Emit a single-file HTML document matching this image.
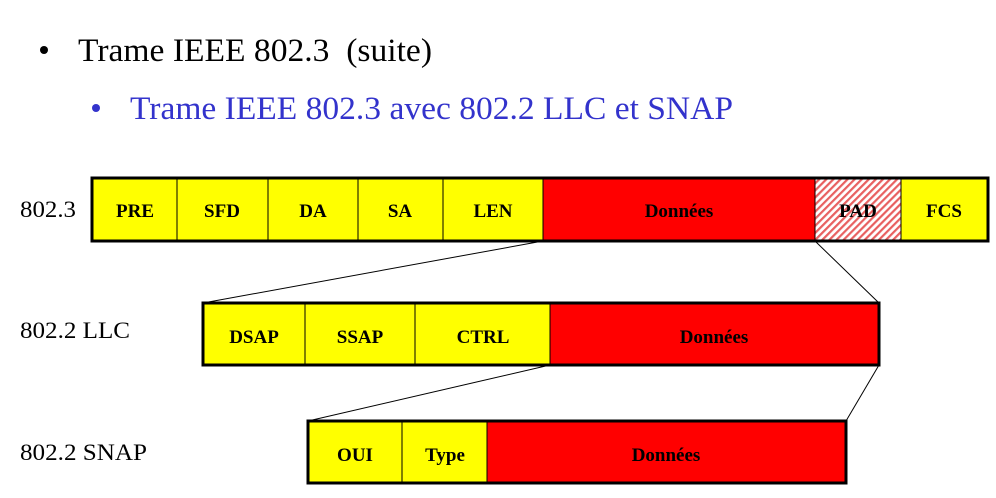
<!DOCTYPE html>
<html><head><meta charset="utf-8"><style>
html,body{margin:0;padding:0;background:#fff;width:996px;height:498px;overflow:hidden}
svg text{font-family:"Liberation Serif",serif}
.c{font-weight:bold;font-size:19px;text-anchor:middle}
</style></head><body>
<svg width="996" height="498" viewBox="0 0 996 498" xmlns="http://www.w3.org/2000/svg">
<defs>
<pattern id="h" width="5" height="5" patternUnits="userSpaceOnUse" patternTransform="rotate(45)">
<rect width="5" height="5" fill="#fff"/><rect width="2.2" height="5" fill="#e86060"/>
</pattern>
</defs>
<circle cx="44" cy="50" r="4" fill="#000"/>
<text x="78" y="61" font-size="33" textLength="354" lengthAdjust="spacingAndGlyphs" xml:space="preserve">Trame IEEE 802.3  (suite)</text>
<circle cx="96" cy="108" r="4" fill="#3333cc"/>
<text x="130" y="119" font-size="33" fill="#3333cc" textLength="603" lengthAdjust="spacingAndGlyphs">Trame IEEE 802.3 avec 802.2 LLC et SNAP</text>

<text x="20" y="217" font-size="23" textLength="56" lengthAdjust="spacingAndGlyphs">802.3</text>
<text x="20" y="338" font-size="23" textLength="110" lengthAdjust="spacingAndGlyphs">802.2 LLC</text>
<text x="20" y="460" font-size="23" textLength="127" lengthAdjust="spacingAndGlyphs">802.2 SNAP</text>

<g stroke="#000" stroke-width="1">
<line x1="543" y1="241" x2="203" y2="303"/>
<line x1="815" y1="241" x2="879" y2="303"/>
<line x1="550" y1="365" x2="308" y2="421"/>
<line x1="879" y1="365" x2="846" y2="421"/>
</g>

<rect x="92" y="178" width="451" height="63" fill="#ffff00"/>
<rect x="543" y="178" width="272" height="63" fill="#ff0000"/>
<rect x="815" y="178" width="86" height="63" fill="url(#h)"/>
<rect x="901" y="178" width="87" height="63" fill="#ffff00"/>
<g stroke="#000" stroke-width="1">
<line x1="177" y1="178" x2="177" y2="241"/><line x1="268" y1="178" x2="268" y2="241"/>
<line x1="358" y1="178" x2="358" y2="241"/><line x1="443" y1="178" x2="443" y2="241"/>
<line x1="543" y1="178" x2="543" y2="241"/><line x1="815" y1="178" x2="815" y2="241"/>
<line x1="901" y1="178" x2="901" y2="241"/>
</g>
<rect x="92" y="178" width="896" height="63" fill="none" stroke="#000" stroke-width="3"/>
<text class="c" x="135" y="217">PRE</text><text class="c" x="222" y="217">SFD</text>
<text class="c" x="313" y="217">DA</text><text class="c" x="400" y="217">SA</text>
<text class="c" x="493" y="217">LEN</text><text class="c" x="679" y="217">Données</text>
<text class="c" x="858" y="217">PAD</text><text class="c" x="944" y="217">FCS</text>

<rect x="203" y="303" width="347" height="62" fill="#ffff00"/>
<rect x="550" y="303" width="329" height="62" fill="#ff0000"/>
<g stroke="#000" stroke-width="1">
<line x1="305" y1="303" x2="305" y2="365"/><line x1="415" y1="303" x2="415" y2="365"/>
<line x1="550" y1="303" x2="550" y2="365"/>
</g>
<rect x="203" y="303" width="676" height="62" fill="none" stroke="#000" stroke-width="3"/>
<text class="c" x="254" y="343">DSAP</text><text class="c" x="360" y="343">SSAP</text>
<text class="c" x="483" y="343">CTRL</text><text class="c" x="714" y="343">Données</text>

<rect x="308" y="421" width="179" height="62" fill="#ffff00"/>
<rect x="487" y="421" width="359" height="62" fill="#ff0000"/>
<g stroke="#000" stroke-width="1">
<line x1="402" y1="421" x2="402" y2="483"/><line x1="487" y1="421" x2="487" y2="483"/>
</g>
<rect x="308" y="421" width="538" height="62" fill="none" stroke="#000" stroke-width="3"/>
<text class="c" x="355" y="461">OUI</text><text class="c" x="445" y="461">Type</text>
<text class="c" x="666" y="461">Données</text>
</svg>
</body></html>
